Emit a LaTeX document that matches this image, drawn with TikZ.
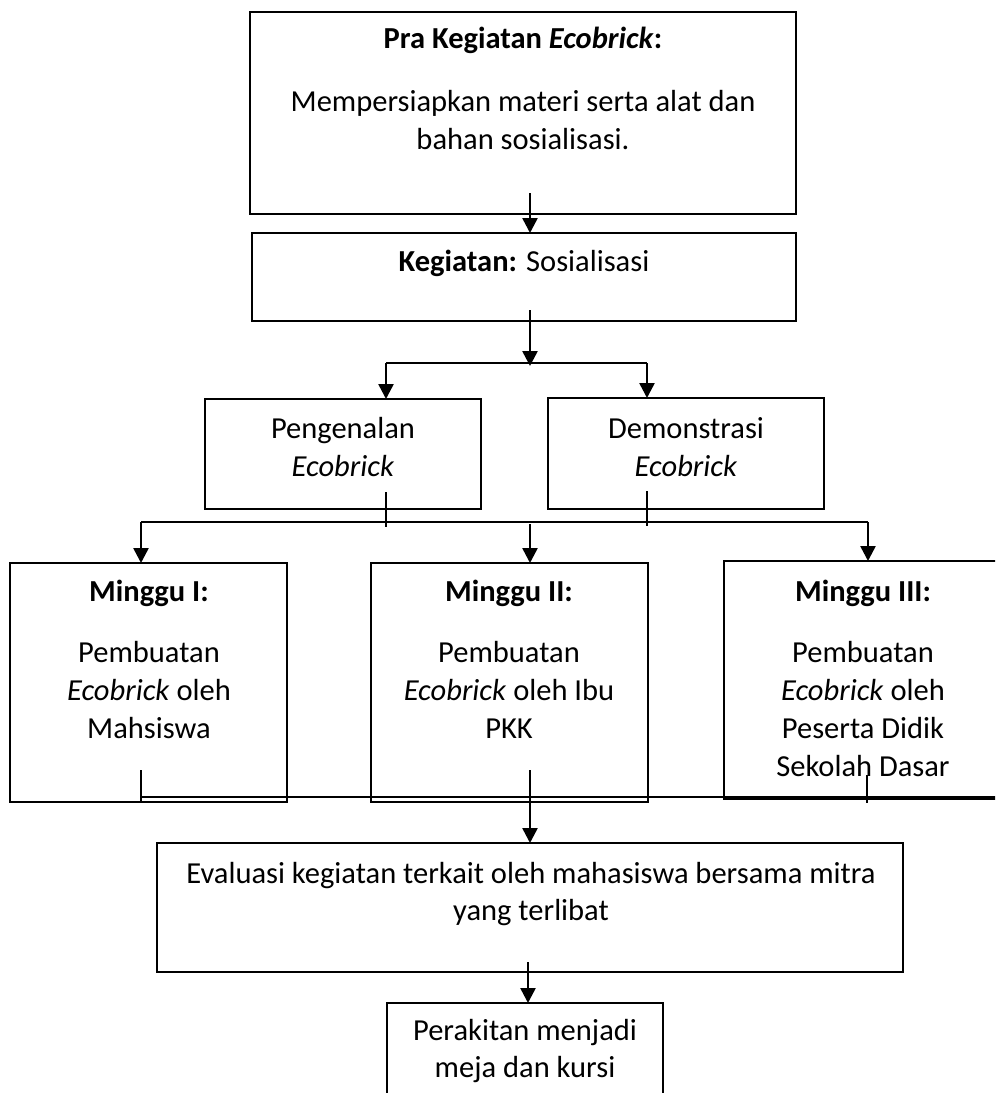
\documentclass[tikz,border=0pt]{standalone}
\usepackage{fontspec}
\setmainfont{Carlito}
\usetikzlibrary{positioning,arrows.meta}
\newlength\px
\setlength\px{0.025cm}

\begin{document}
\begin{tikzpicture}[x=1\px, y=-1\px,
    kotak/.style 2 args={draw, line width=1pt, inner sep=0pt, outer sep=0pt,
        anchor=north west, minimum width=#1\px, minimum height=#2\px},
    teks/.style={align=center, font=\fontsize{21.7}{27}\selectfont},
    panah/.style={line width=1.8pt, -{Triangle[width=10.6pt,length=10.6pt]}},
    tipis/.style={line width=0.8pt}]
    \useasboundingbox (0,0) rectangle (995,1093);
    \clip (0,0) rectangle (995,1093);
    % kotak-kotak
    \node[kotak={546}{202}] (pra) at (250,12) {};
    \node[kotak={544}{88}] (keg) at (252,233) {};
    \node[kotak={276}{110}] (kenal) at (205,399) {};
    \node[kotak={276}{111}] (demo) at (548,398) {};
    \node[kotak={277}{239}] (m1) at (10,563) {};
    \node[kotak={277}{239}] (m2) at (371,563) {};
    \node[kotak={300}{238}] (m3) at (724,561) {};
    \node[kotak={746}{129}] (eval) at (157,843) {};
    \node[kotak={276}{120}] (rakit) at (387,1003) {};
    % teks
    \node[teks] (tpra) at (523,40) {\textbf{Pra Kegiatan \textit{Ecobrick}:}};
    \node[teks] (tsiap) at (523,120) {Mempersiapkan materi serta alat dan\\bahan sosialisasi.};
    \node[teks] (tkeg) at (524,263) {\textbf{Kegiatan:} Sosialisasi};
    \node[teks] (tkenal) at (343,447) {Pengenalan\\\textit{Ecobrick}};
    \node[teks] (tdemo) at (686,447) {Demonstrasi\\\textit{Ecobrick}};
    \foreach \x/\n/\l in {149/m1/I, 509/m2/II, 863/m3/III} {
        \node[teks] (t\n) at (\x,593) {\textbf{Minggu \l:}};
    }
    \node[teks] (b1) at (149,690) {Pembuatan\\\textit{Ecobrick} oleh\\Mahsiswa};
    \node[teks] (b2) at (509,690) {Pembuatan\\\textit{Ecobrick} oleh Ibu\\PKK};
    \node[teks] (b3) at (863,709) {Pembuatan\\\textit{Ecobrick} oleh\\Peserta Didik\\Sekolah Dasar};
    \node[teks] (teval) at (531,894) {Evaluasi kegiatan terkait oleh mahasiswa bersama mitra\\yang terlibat};
    \node[teks] (trakit) at (525,1051) {Perakitan menjadi\\meja dan kursi};
    % titik bantu
    \coordinate (a1) at (530,193);
    \coordinate (a2) at (530,310);
    \coordinate (cab1) at (530,366);
    \coordinate (k1) at (386,363);
    \coordinate (k2) at (647,363);
    \coordinate (c1) at (141,522);
    \coordinate (c2) at (530,524);
    \coordinate (c3) at (868,522);
    \coordinate (d1) at (141,797);
    \coordinate (d2) at (530,797);
    \coordinate (d3) at (867,797);
    \coordinate (e1) at (528,962);
    % panah
    \draw[panah] (a1) -- (a1 |- keg.north);
    \draw[panah] (a2) -- (cab1);
    \draw[line width=1.8pt] (k1) -- (k2);
    \draw[panah] (k1) -- (k1 |- kenal.north);
    \draw[panah] (k2) -- (k2 |- demo.north);
    \draw[tipis] (k1 |- kenal.south) ++(0,-17) -- ++(0,35);
    \draw[tipis] (k2 |- demo.south) ++(0,-18) -- ++(0,35);
    \draw[tipis] (c1) -- (c3);
    \foreach \c/\m in {c1/m1, c2/m2, c3/m3} {
        \draw[panah] (\c) -- (\c |- \m.north);
    }
    \draw[tipis] (d1) -- (d1 -| m3.east);
    \draw[tipis] (d1) ++(0,-27) -- ++(0,33);
    \draw[tipis] (d3) ++(0,-22) -- ++(0,28);
    \draw[tipis] (d2) -- ++(0,-27);
    \draw[panah] (d2) -- (d2 |- eval.north);
    \draw[panah] (e1) -- (e1 |- rakit.north);
\end{tikzpicture}
\end{document}
